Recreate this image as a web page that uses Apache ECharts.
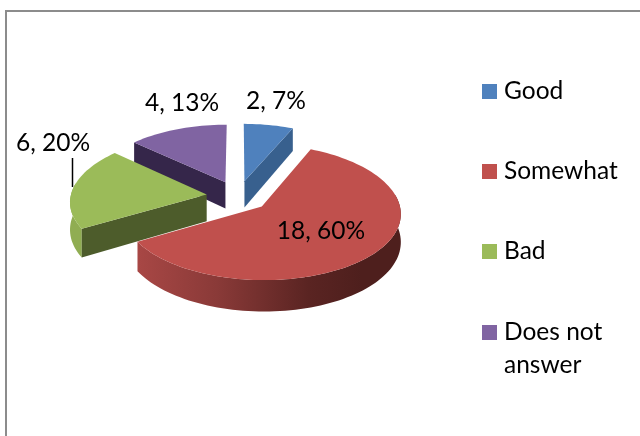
<!DOCTYPE html>
<html>
<head>
<meta charset="utf-8">
<title>Answers pie</title>
<style>html,body{margin:0;padding:0;background:#fff}#main{width:640px;height:436px}</style>
<script src="https://cdn.jsdelivr.net/npm/echarts@6/dist/echarts.min.js"></script>
</head>
<body>
<div id="main"></div>
<script>
// data
var categories = ['Good', 'Somewhat', 'Bad', 'Does not answer'];
var values = [2, 18, 6, 4];

// colours
var topColors = ['#4f81bd', '#c0504d', '#9bbb59', '#8064a2'];
var faceColors = ['#38608e', '#8a3a38', '#4d5c2b', '#35264a'];
var drawOrder = [2, 4, 3, 1];

// layout of the fake 3d pie
var cx = 238, cy = 196, rx = 136, ry = 66;
var explode = 0.232, depth = 27;
var fontName = 'Lato';
var labelPos = [[276, 101], [321, 231], [53, 143], [182, 103]];
var legendTop = [75, 155, 235, 283];

var total = values.reduce(function (a, b) { return a + b; }, 0);

function project(u, v, z) {
    var f = 1 - 0.1 * v;
    var y = cy - ry * v * (1 - 0.089 * v);
    return [cx + rx * u * f, y + (z ? depth * (1 - 0.14 * v) : 0)];
}

function makeSlice(index) {
    return function (params, api) {
        var value = api.value(0);
        var before = 0;
        for (var i = 0; i < index; i++) before += values[i];
        var start = before / total * 360;
        var end = (before + value) / total * 360;
        var mid = (start + end) / 2 * Math.PI / 180;
        var ou = Math.sin(mid) * explode, ov = Math.cos(mid) * explode;
        var rim = function (deg, z) {
            var a = deg * Math.PI / 180;
            return project(ou + Math.sin(a), ov + Math.cos(a), z);
        };
        var children = [];

        // outer wall, only the part that looks to the front
        var from = Math.max(start, 80), to = Math.min(end, 280);
        if (to > from) {
            var wall = [], back = [];
            for (var d = from; d <= to; d += 2) {
                wall.push(rim(d, false));
                back.unshift(rim(d, true));
            }
            children.push({
                type: 'polygon',
                shape: { points: wall.concat(back) },
                style: {
                    fill: index === 1 ? {
                        type: 'linear', x: 0, y: 0, x2: 1, y2: 0,
                        colorStops: [
                            { offset: 0, color: '#a84745' },
                            { offset: 0.3, color: '#8a3a38' },
                            { offset: 0.65, color: '#5a2422' },
                            { offset: 0.85, color: '#4e1f1d' },
                            { offset: 1, color: '#4e1f1d' }
                        ]
                    } : '#90ad52'
                }
            });
        }

        // cut face
        var faceDeg = end <= 180 ? end : (start >= 180 ? start : null);
        if (faceDeg !== null) {
            children.push({
                type: 'polygon',
                shape: { points: [project(ou, ov, false), rim(faceDeg, false), rim(faceDeg, true), project(ou, ov, true)] },
                style: { fill: faceColors[index] }
            });
        }

        // top
        var pts = [project(ou, ov, false)];
        for (var t = start; t < end; t += 2) pts.push(rim(t, false));
        pts.push(rim(end, false));
        children.push({ type: 'polygon', shape: { points: pts }, style: { fill: topColors[index] } });

        // leader line of the Bad label
        if (index === 2) {
            children.push({
                type: 'line',
                shape: { x1: 72.5, y1: 158, x2: 72.5, y2: 187 },
                style: { stroke: '#000', lineWidth: 1.5 }
            });
        }

        children.push({
            type: 'text',
            x: labelPos[index][0],
            y: labelPos[index][1],
            style: {
                text: value + ', ' + Math.round(value / total * 100) + '%',
                fill: '#000',
                font: '24.5px ' + fontName,
                align: 'center',
                verticalAlign: 'middle'
            }
        });
        return { type: 'group', children: children };
    };
}

var chart = echarts.init(document.getElementById('main'), null, { renderer: 'canvas' });
chart.setOption({
    animation: false,
    backgroundColor: '#fff',
    graphic: [{
        type: 'rect',
        shape: { x: 6, y: 11, width: 800, height: 600 },
        style: { fill: 'none', stroke: '#8c8c8c', lineWidth: 2 },
        silent: true
    }],
    legend: categories.map(function (name, i) {
        return {
            data: [name],
            left: 482,
            top: legendTop[i],
            padding: 0,
            itemWidth: 15,
            itemHeight: 15,
            icon: 'rect',
            selectedMode: false,
            // blank first line keeps the square level with "Does not"
            formatter: function (n) { return n === 'Does not answer' ? ' \nDoes not\nanswer' : n; },
            textStyle: {
                fontFamily: fontName,
                fontSize: 24.5,
                color: '#000',
                lineHeight: 33,
                padding: [0, 0, 0, 2]
            }
        };
    }),
    series: categories.map(function (name, i) {
        return {
            type: 'custom',
            name: name,
            coordinateSystem: 'none',
            z: drawOrder[i],
            itemStyle: { color: topColors[i] },
            data: [[values[i]]],
            renderItem: makeSlice(i)
        };
    })
});
</script>
</body>
</html>
